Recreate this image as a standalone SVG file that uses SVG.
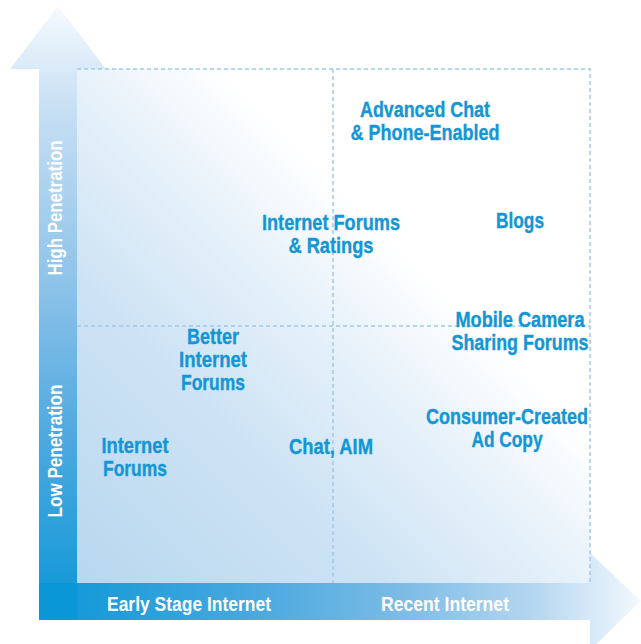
<svg xmlns="http://www.w3.org/2000/svg" width="641" height="644" viewBox="0 0 641 644">
  <defs>
    <!-- plot field: light blue in the lower left fading to white -->
    <linearGradient id="fieldGrad" x1="77" y1="583" x2="590" y2="69" gradientUnits="userSpaceOnUse">
      <stop offset="0" stop-color="#b8d7ef"/>
      <stop offset="0.3" stop-color="#cde3f4"/>
      <stop offset="0.5" stop-color="#e8f2fa"/>
      <stop offset="0.64" stop-color="#ffffff"/>
      <stop offset="1" stop-color="#ffffff"/>
    </linearGradient>
    <!-- vertical axis arrow -->
    <linearGradient id="vAxisGrad" x1="0" y1="620" x2="0" y2="5" gradientUnits="userSpaceOnUse">
      <stop offset="0" stop-color="#0a97d7"/>
      <stop offset="0.3" stop-color="#4ea9df"/>
      <stop offset="0.55" stop-color="#8ec3e9"/>
      <stop offset="0.82" stop-color="#c4def3"/>
      <stop offset="1" stop-color="#f6fafe"/>
    </linearGradient>
    <!-- horizontal axis arrow -->
    <linearGradient id="hAxisGrad" x1="39" y1="0" x2="641" y2="0" gradientUnits="userSpaceOnUse">
      <stop offset="0" stop-color="#0a97d7"/>
      <stop offset="0.35" stop-color="#48a8df"/>
      <stop offset="0.6" stop-color="#7bbbe6"/>
      <stop offset="0.82" stop-color="#b4d6f0"/>
      <stop offset="1" stop-color="#f3f8fd"/>
    </linearGradient>
  </defs>
  <style>
    .lbl { font-family: "Liberation Sans", Arial, sans-serif; font-weight: bold; font-size: 22px; fill: #1296d6; stroke: #1296d6; stroke-width: 0.35; text-anchor: middle; }
    .axis { font-family: "Liberation Sans", Arial, sans-serif; font-weight: bold; font-size: 21px; fill: #ffffff; text-anchor: middle; }
    .grid { fill: none; stroke: #a0c9ea; stroke-width: 1.5; stroke-dasharray: 4 3; }
  </style>

  <!-- plot field -->
  <rect id="field" x="77" y="69" width="513" height="514" fill="url(#fieldGrad)"/>

  <!-- axes -->
  <g id="axes">
    <polygon id="v-axis" points="39,620 39,69 10,69 58,6 106,69 77,69 77,620" fill="url(#vAxisGrad)"/>
    <polygon id="h-axis" points="77,583 590,583 590,553 641,601 590,650 590,620 77,620" fill="url(#hAxisGrad)"/>
    <rect x="39" y="583" width="38" height="37" fill="#0a97d7"/>
  </g>

  <!-- quadrant grid -->
  <g id="connectors">
    <path class="grid" d="M77,69 H590 V583"/>
    <path class="grid" d="M333,69 V583"/>
    <path class="grid" d="M77,326 H590"/>
  </g>

  <!-- axis labels -->
  <g id="axis-labels">
    <text class="axis" x="189" y="611" textLength="164" lengthAdjust="spacingAndGlyphs">Early Stage Internet</text>
    <text class="axis" x="445" y="611" textLength="128" lengthAdjust="spacingAndGlyphs">Recent Internet</text>
    <text class="axis" transform="translate(62,208) rotate(-90)" textLength="135" lengthAdjust="spacingAndGlyphs">High Penetration</text>
    <text class="axis" transform="translate(62,451) rotate(-90)" textLength="133" lengthAdjust="spacingAndGlyphs">Low Penetration</text>
  </g>

  <!-- items -->
  <g id="advanced-chat">
    <text class="lbl" x="425" y="117" textLength="130" lengthAdjust="spacingAndGlyphs">Advanced Chat</text>
    <text class="lbl" x="425" y="140" textLength="149" lengthAdjust="spacingAndGlyphs">&amp; Phone-Enabled</text>
  </g>
  <g id="internet-forums-ratings">
    <text class="lbl" x="331" y="230" textLength="138" lengthAdjust="spacingAndGlyphs">Internet Forums</text>
    <text class="lbl" x="331" y="253" textLength="85" lengthAdjust="spacingAndGlyphs">&amp; Ratings</text>
  </g>
  <g id="blogs">
    <text class="lbl" x="520" y="228" textLength="48" lengthAdjust="spacingAndGlyphs">Blogs</text>
  </g>
  <g id="mobile-camera">
    <text class="lbl" x="520" y="327" textLength="129" lengthAdjust="spacingAndGlyphs">Mobile Camera</text>
    <text class="lbl" x="520" y="350" textLength="137" lengthAdjust="spacingAndGlyphs">Sharing Forums</text>
  </g>
  <g id="better-internet-forums">
    <text class="lbl" x="213" y="344" textLength="52" lengthAdjust="spacingAndGlyphs">Better</text>
    <text class="lbl" x="213" y="367" textLength="68" lengthAdjust="spacingAndGlyphs">Internet</text>
    <text class="lbl" x="213" y="390" textLength="64" lengthAdjust="spacingAndGlyphs">Forums</text>
  </g>
  <g id="consumer-created">
    <text class="lbl" x="507" y="424" textLength="162" lengthAdjust="spacingAndGlyphs">Consumer-Created</text>
    <text class="lbl" x="507" y="447" textLength="71" lengthAdjust="spacingAndGlyphs">Ad Copy</text>
  </g>
  <g id="chat-aim">
    <text class="lbl" x="331" y="454" textLength="84" lengthAdjust="spacingAndGlyphs">Chat, AIM</text>
  </g>
  <g id="internet-forums">
    <text class="lbl" x="135" y="453" textLength="67" lengthAdjust="spacingAndGlyphs">Internet</text>
    <text class="lbl" x="135" y="476" textLength="64" lengthAdjust="spacingAndGlyphs">Forums</text>
  </g>
</svg>
